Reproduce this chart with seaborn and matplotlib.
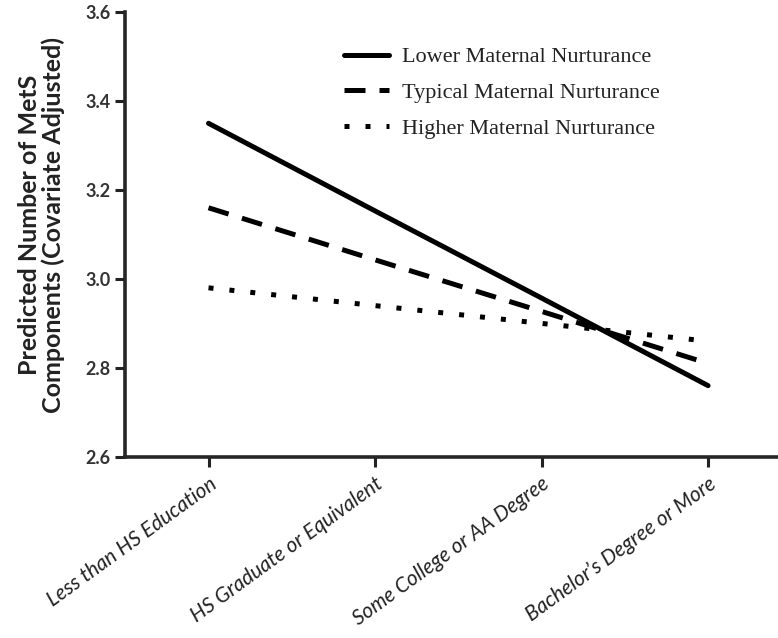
import matplotlib
matplotlib.use("Agg")
import matplotlib.pyplot as plt
import numpy as np
import pandas as pd
import seaborn as sns

# Datos
educacion = ["Less than HS Education", "HS Graduate or Equivalent",
             "Some College or AA Degree", "Bachelor\u2019s Degree or More"]
grupos = ["Lower Maternal Nurturance", "Typical Maternal Nurturance",
          "Higher Maternal Nurturance"]
lower = [3.35, 3.153, 2.957, 2.76]
typical = [3.16, 3.043, 2.927, 2.81]
higher = [2.98, 2.94, 2.90, 2.86]

df = pd.DataFrame({
    "x": list(range(len(educacion))) * 3,
    "valor": lower + typical + higher,
    "grupo": [g for g in grupos for _ in educacion],
})

sns.set_style("ticks")
plt.rcParams["font.family"] = ["Lato", "DejaVu Sans"]

fig = plt.figure(figsize=(7.78, 6.38), dpi=100)
ax = fig.add_axes([0.161, 0.284, 0.839, 0.697])

estilos = {grupos[0]: "", grupos[1]: (4.2, 2.8), grupos[2]: (1, 3.2)}
sns.lineplot(data=df, x="x", y="valor", hue="grupo", style="grupo",
             palette=["black"] * 3, dashes=estilos, linewidth=3.6,
             ax=ax, legend=True)

ax.set_xlim(-0.5, 3.42)
ax.set_ylim(2.6, 3.6)
ax.set_yticks([2.6, 2.8, 3.0, 3.2, 3.4, 3.6])
ax.set_yticklabels(["2.6", "2.8", "3.0", "3.2", "3.4", "3.6"],
                   fontsize=13, fontweight="bold", color="#333333")
ax.set_xticks(range(len(educacion)))
ax.set_xticklabels(educacion, rotation=36, ha="right", rotation_mode="anchor",
                   fontsize=15, fontstyle="italic", color="#222222")
ax.set_xlabel("")
ax.set_ylabel("Predicted Number of MetS\nComponents (Covariate Adjusted)",
              fontsize=18, fontweight="bold", color="#222222",
              linespacing=1.05)
ax.yaxis.set_label_coords(-0.092, 0.521)

sns.despine(ax=ax)
for lado in ["left", "bottom"]:
    ax.spines[lado].set_linewidth(2.6)
ax.tick_params(axis="both", width=2.2, length=7, direction="out", color="#222222")
ax.tick_params(axis="x", pad=5)

leg = ax.legend(loc="upper left", bbox_to_anchor=(0.305, 0.967), frameon=False,
                handlelength=2.0, labelspacing=0.69, handletextpad=0.6,
                prop={"family": "Liberation Serif", "size": 16})
for texto in leg.get_texts():
    texto.set_color("#222222")

plt.savefig("out.png", dpi=100)
